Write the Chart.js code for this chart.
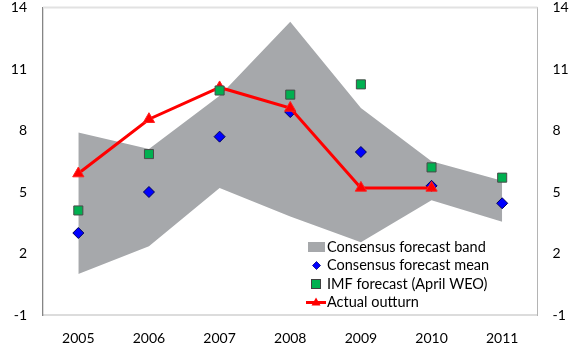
<!DOCTYPE html>
<html>
<head>
<meta charset="utf-8">
<script src="https://cdn.jsdelivr.net/npm/chart.js@4.4.1/dist/chart.umd.min.js"></script>
<style>
  html, body { margin: 0; padding: 0; background: #ffffff; }
  #wrap { width: 569px; height: 358px; }
</style>
</head>
<body>
<div id="wrap"><canvas id="c" width="569" height="358"></canvas></div>
<script>
// Years on the horizontal axis
const years = ['2005', '2006', '2007', '2008', '2009', '2010', '2011'];

// Range of private-sector (Consensus) forecasts
const bandHigh = [7.9, 7.1, 9.7, 13.3, 9.1, 6.5, 5.55];
const bandLow  = [1.0, 2.35, 5.2, 3.8, 2.55, 4.6, 3.55];

// Mean of the Consensus forecasts
const consensusMean = [3.0, 5.0, 7.7, 8.9, 6.95, 5.3, 4.45];

// IMF forecast from the April World Economic Outlook
const imfForecast = [4.1, 6.85, 9.95, 9.75, 10.25, 6.2, 5.7];

// Realised outcome (not yet available for the last year)
const actualOutturn = [5.9, 8.55, 10.1, 9.1, 5.2, 5.2, null];

// Value axis ticks
const yMin = -1, yMax = 14, yStep = 3;

const seriesNames = {
  band: 'Consensus forecast band',
  mean: 'Consensus forecast mean',
  imf: 'IMF forecast (April WEO)',
  actual: 'Actual outturn'
};

const FONT = 'Lato, "Liberation Sans", sans-serif';
const BAND_COLOR = '#a6a8ab';

// Light frame line along the top of the plot area
const topFrame = {
  id: 'topFrame',
  beforeDatasetsDraw(chart) {
    const { ctx, chartArea } = chart;
    ctx.save();
    ctx.strokeStyle = '#e2e2e2';
    ctx.lineWidth = 2;
    ctx.beginPath();
    ctx.moveTo(chartArea.left, chartArea.top);
    ctx.lineTo(chartArea.right, chartArea.top);
    ctx.stroke();
    ctx.restore();
  }
};

// Legend drawn inside the lower right of the plot area
const insideLegend = {
  id: 'insideLegend',
  afterDraw(chart) {
    const { ctx } = chart;
    const x0 = 308, textX = 327;
    const rows = [247, 265.5, 284, 302.5];
    ctx.save();
    ctx.font = '14.5px ' + FONT;
    ctx.textBaseline = 'middle';
    ctx.textAlign = 'left';

    // band swatch
    ctx.fillStyle = BAND_COLOR;
    ctx.fillRect(x0, rows[0] - 5, 17, 10);
    // mean marker
    ctx.fillStyle = '#0000ff';
    ctx.strokeStyle = '#000080';
    ctx.lineWidth = 0.8;
    ctx.beginPath();
    const dx = 316.5, dy = rows[1], dr = 4;
    ctx.moveTo(dx, dy - dr); ctx.lineTo(dx + dr, dy); ctx.lineTo(dx, dy + dr); ctx.lineTo(dx - dr, dy); ctx.closePath();
    ctx.fill(); ctx.stroke();
    // IMF marker
    ctx.fillStyle = '#00b050';
    ctx.strokeStyle = '#404040';
    ctx.lineWidth = 1;
    ctx.fillRect(311.5, rows[2] - 4.5, 9, 9);
    ctx.strokeRect(311.5, rows[2] - 4.5, 9, 9);
    // actual line + marker
    ctx.strokeStyle = '#ff0000';
    ctx.lineWidth = 3;
    ctx.beginPath();
    ctx.moveTo(306, rows[3]); ctx.lineTo(326, rows[3]);
    ctx.stroke();
    ctx.fillStyle = '#ff0000';
    ctx.beginPath();
    ctx.moveTo(316, rows[3] - 5); ctx.lineTo(320.5, rows[3] + 3); ctx.lineTo(311.5, rows[3] + 3); ctx.closePath();
    ctx.fill();

    ctx.fillStyle = '#000000';
    const labels = [seriesNames.band, seriesNames.mean, seriesNames.imf, seriesNames.actual];
    labels.forEach((t, i) => ctx.fillText(t, textX, rows[i]));
    ctx.restore();
  }
};

const tickFont = { family: FONT, size: 14 };

new Chart(document.getElementById('c'), {
  type: 'line',
  data: {
    labels: years,
    datasets: [
      {
        label: seriesNames.band,
        data: bandHigh,
        fill: '+1',
        backgroundColor: BAND_COLOR,
        borderWidth: 0,
        borderColor: 'rgba(0,0,0,0)',
        pointRadius: 0,
        tension: 0,
        order: 10
      },
      {
        label: seriesNames.band + ' (low)',
        data: bandLow,
        fill: false,
        borderWidth: 0,
        borderColor: 'rgba(0,0,0,0)',
        pointRadius: 0,
        order: 10
      },
      {
        label: seriesNames.mean,
        data: consensusMean,
        showLine: false,
        pointStyle: 'rectRot',
        pointRadius: 5.5,
        pointBackgroundColor: '#0000ff',
        pointBorderColor: '#00005a',
        pointBorderWidth: 1,
        order: 5
      },
      {
        label: seriesNames.actual,
        data: actualOutturn,
        borderColor: '#ff0000',
        borderWidth: 3,
        pointStyle: 'triangle',
        pointRadius: 6.5,
        pointBackgroundColor: '#ff0000',
        pointBorderColor: '#ff2020',
        pointBorderWidth: 1,
        spanGaps: false,
        tension: 0,
        order: 3
      },
      {
        label: seriesNames.imf,
        data: imfForecast,
        showLine: false,
        pointStyle: 'rect',
        pointRadius: 6.4,
        pointBackgroundColor: '#00b050',
        pointBorderColor: '#4a4a4a',
        pointBorderWidth: 1,
        order: 1
      }
    ]
  },
  options: {
    responsive: false,
    animation: false,
    devicePixelRatio: 1,
    layout: { padding: { top: 4, left: 0, right: 0, bottom: 0 } },
    plugins: {
      legend: { display: false },
      tooltip: { enabled: false },
      filler: { propagate: false }
    },
    scales: {
      x: {
        type: 'category',
        offset: true,
        grid: { display: false, drawTicks: false },
        border: { display: true, color: '#dcdcdc', width: 2 },
        ticks: { font: tickFont, color: '#000000', padding: 15, maxRotation: 0 },
        afterFit(s) { s.height = 43; s.paddingLeft = 0; s.paddingRight = 0; }
      },
      y: {
        position: 'left',
        min: yMin, max: yMax,
        grid: { display: false, drawTicks: false },
        border: { display: true, color: '#858585', width: 1.3 },
        ticks: { stepSize: yStep, font: tickFont, color: '#000000', padding: 16 },
        afterFit(s) { s.width = 43; s.paddingTop = 0; s.paddingBottom = 0; }
      },
      y2: {
        position: 'right',
        min: yMin, max: yMax,
        grid: { display: false, drawTicks: false },
        border: { display: true, color: '#b4b4b4', width: 1 },
        ticks: { stepSize: yStep, font: tickFont, color: '#000000', padding: 15 },
        afterFit(s) { s.width = 31.5; s.paddingTop = 0; s.paddingBottom = 0; }
      }
    }
  },
  plugins: [topFrame, insideLegend]
});
</script>
</body>
</html>
